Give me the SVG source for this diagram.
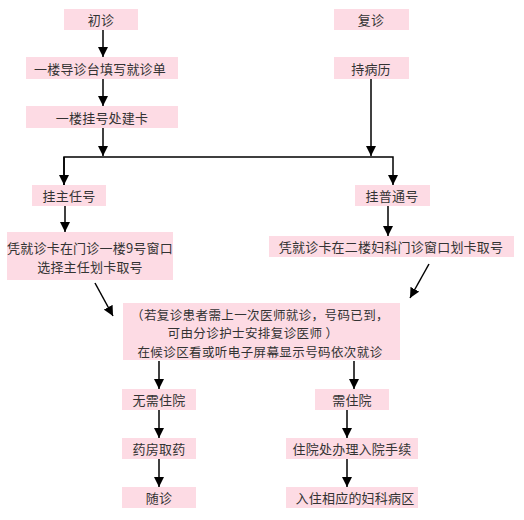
<svg xmlns="http://www.w3.org/2000/svg" width="524" height="520" viewBox="0 0 524 520">
<style>
.box{fill:#fddbe4;}
.t{font-family:"Noto Sans CJK SC","Noto Sans",sans-serif;font-size:13px;letter-spacing:0.2px;fill:#333;text-anchor:middle;dominant-baseline:central;}
.m{font-size:12.5px;letter-spacing:0.4px;}
.c{stroke:#000;stroke-width:1.5;fill:none;}
</style>
<defs>
<marker id="ah" viewBox="0 0 10 10" refX="10" refY="5" markerWidth="10" markerHeight="10" markerUnits="userSpaceOnUse" orient="auto">
<path d="M0,0 L10,5 L0,10 Z" fill="#000"/>
</marker>
</defs>
<rect width="524" height="520" fill="#fff"/>
<g id="connectors">
<line class="c" x1="103" y1="30" x2="103" y2="57" marker-end="url(#ah)"/>
<line class="c" x1="103" y1="79" x2="103" y2="106" marker-end="url(#ah)"/>
<line class="c" x1="103" y1="128" x2="103" y2="156" marker-end="url(#ah)"/>
<line class="c" x1="371" y1="79" x2="371" y2="156" marker-end="url(#ah)"/>
<polyline class="c" points="64,185 64,157 393,157 393,185" marker-end="url(#ah)"/>
<line class="c" x1="64" y1="157" x2="64" y2="185" marker-end="url(#ah)"/>
<line class="c" x1="65" y1="206" x2="65" y2="232" marker-end="url(#ah)"/>
<line class="c" x1="388" y1="206" x2="388" y2="236" marker-end="url(#ah)"/>
<line class="c" x1="95" y1="283" x2="113" y2="316" marker-end="url(#ah)"/>
<line class="c" x1="429" y1="264" x2="410" y2="298" marker-end="url(#ah)"/>
<line class="c" x1="159" y1="361" x2="159" y2="389" marker-end="url(#ah)"/>
<line class="c" x1="159" y1="410" x2="159" y2="438" marker-end="url(#ah)"/>
<line class="c" x1="159" y1="459" x2="159" y2="487" marker-end="url(#ah)"/>
<line class="c" x1="354" y1="361" x2="354" y2="389" marker-end="url(#ah)"/>
<line class="c" x1="347" y1="410" x2="347" y2="438" marker-end="url(#ah)"/>
<line class="c" x1="347" y1="459" x2="347" y2="487" marker-end="url(#ah)"/>
</g>
<g id="n1"><rect class="box" x="64" y="9" width="74" height="21"/><text class="t" x="101" y="19.5">初诊</text></g>
<g id="n2"><rect class="box" x="26" y="57" width="152" height="22"/><text class="t" x="100" y="68">一楼导诊台填写就诊单</text></g>
<g id="n3"><rect class="box" x="26" y="106" width="152" height="22"/><text class="t" x="102" y="117">一楼挂号处建卡</text></g>
<g id="n4"><rect class="box" x="334" y="9" width="75" height="21"/><text class="t" x="371" y="19.5">复诊</text></g>
<g id="n5"><rect class="box" x="334" y="57" width="75" height="22"/><text class="t" x="371" y="68">持病历</text></g>
<g id="n6"><rect class="box" x="32" y="185" width="74" height="21"/><text class="t" x="69" y="195.5">挂主任号</text></g>
<g id="n7"><rect class="box" x="355" y="185" width="75" height="21"/><text class="t" x="392" y="195.5">挂普通号</text></g>
<g id="n8"><rect class="box" x="7" y="232" width="166" height="48"/><text class="t"><tspan x="90" y="246.5">凭就诊卡在门诊一楼9号窗口</tspan><tspan x="90" y="266">选择主任划卡取号</tspan></text></g>
<g id="n9"><rect class="box" x="269" y="236" width="245" height="21"/><text class="t" x="391" y="246.5">凭就诊卡在二楼妇科门诊窗口划卡取号</text></g>
<g id="n10"><rect class="box" x="123" y="303" width="277" height="57"/><text class="t m"><tspan x="260" y="313.5">（若复诊患者需上一次医师就诊，号码已到，</tspan><tspan x="253" y="332">可由分诊护士安排复诊医师 ）</tspan><tspan x="260" y="350.5">在候诊区看或听电子屏幕显示号码依次就诊</tspan></text></g>
<g id="n11"><rect class="box" x="122" y="389" width="74" height="21"/><text class="t" x="159" y="399.5">无需住院</text></g>
<g id="n12"><rect class="box" x="122" y="438" width="74" height="21"/><text class="t" x="159" y="448.5">药房取药</text></g>
<g id="n13"><rect class="box" x="122" y="487" width="74" height="21"/><text class="t" x="159" y="497.5">随诊</text></g>
<g id="n14"><rect class="box" x="315" y="389" width="74" height="21"/><text class="t" x="352" y="399.5">需住院</text></g>
<g id="n15"><rect class="box" x="286" y="438" width="132" height="21"/><text class="t" x="352" y="448.5">住院处办理入院手续</text></g>
<g id="n16"><rect class="box" x="286" y="487" width="132" height="21"/><text class="t" x="355" y="497.5">入住相应的妇科病区</text></g>
</svg>
